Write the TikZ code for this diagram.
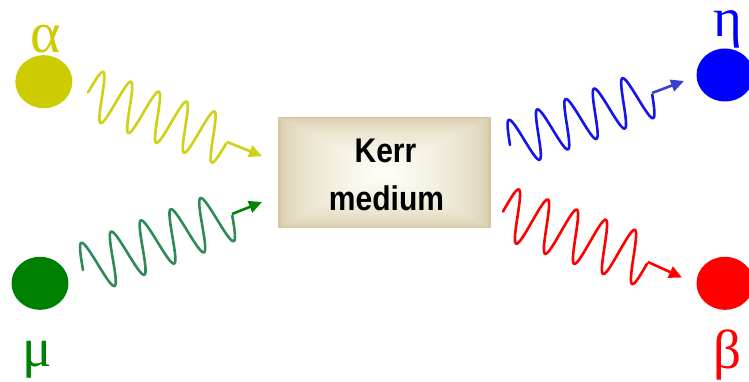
\documentclass[tikz,border=0pt]{standalone}
\usepackage{fontspec}
\setmainfont{Liberation Serif}
\newfontfamily\labelsans{Liberation Sans}
\usetikzlibrary{arrows.meta,shapes.geometric,calc}

\definecolor{qyellow}{RGB}{204,204,0}
\definecolor{qyellowwave}{RGB}{208,208,20}
\definecolor{qgreen}{RGB}{0,128,0}
\definecolor{qgreenwave}{RGB}{46,139,87}
\definecolor{qgreenhead}{RGB}{0,135,0}
\definecolor{qblue}{RGB}{0,0,255}
\definecolor{qbluewave}{RGB}{20,20,235}
\definecolor{qbluehead}{RGB}{60,60,215}
\definecolor{qred}{RGB}{255,0,0}
\definecolor{kerrout}{RGB}{212,200,164}
\definecolor{kerrin}{RGB}{255,254,248}

\tikzset{
  qmode/.style={ellipse, inner sep=0pt, minimum width=57pt, minimum height=53pt,
    fill=#1, draw=none},
  qlabel/.style={text=#1, anchor=base, inner sep=0pt,
    font=\fontsize{55}{60}\selectfont},
  photon/.style={line width=2.6pt, line join=round, line cap=round},
  photontail/.style={line width=2.6pt, -{Triangle[length=13pt,width=12pt]}},
  kerrtext/.style={anchor=base, inner sep=0pt,
    font=\labelsans\bfseries\fontsize{30}{34}\selectfont},
}

% sine wave of five periods from #1 to #2, amplitude #3 (pt), drawn with options #4
\newcommand\photonwave[4]{%
  \draw[photon,#4] let \p1=(#1), \p2=(#2), \n1={veclen(\x2-\x1,\y2-\y1)} in
    plot[domain=0:1, samples=301, variable=\t]
    ({\x1+\t*(\x2-\x1)-#3*sin(1800*\t)*(\y2-\y1)/\n1},
     {\y1+\t*(\y2-\y1)+#3*sin(1800*\t)*(\x2-\x1)/\n1});%
}

\begin{document}
\begin{tikzpicture}[x=1pt,y=-1pt]
\useasboundingbox (0,0) rectangle (749,382);
\clip (0,0) rectangle (749,382);

% Kerr medium: rectangular gradient built from nested rectangles
\foreach \k in {0,...,40}{
  \pgfmathsetmacro\f{1-\k/41}
  \pgfmathtruncatemacro\p{100*sqrt(\k/40)}
  \fill[kerrin!\p!kerrout] (384.5-106.5*\f,172.5-55.5*\f) rectangle (384.5+106.5*\f,172.5+55.5*\f);
}
\node[inner sep=0pt, minimum width=213pt, minimum height=111pt] (kerr) at (384.5,172.5) {};
\node[kerrtext] (kerrtop) at (385.5,162.5) {\scalebox{1}[1.14]{Kerr}};
\node[kerrtext] (kerrbot) at (386.5,210) {\scalebox{1}[1.14]{medium}};

% field modes
\node[qmode=qyellow] (alpha) at (43.8,81.7) {};
\node[qmode=qgreen] (mu) at (40,283.3) {};
\node[qmode=qblue] (eta) at (725,75) {};
\node[qmode=qred] (beta) at (725,283.3) {};

\node[qlabel=qyellow, font=\fontsize{58}{60}\selectfont] (alphalabel) at (45.5,53) {α};
\node[qlabel=qgreen] (mulabel) at (37,366) {μ};
\node[qlabel=qblue, text height=26pt, text depth=14pt] (etalabel) at (728,37) {η};
\node[qlabel=qred] (betalabel) at (727,368) {β};

% photon paths
\coordinate (yS) at (88,92.5);   \coordinate (yE) at (227,142);  \coordinate (yT) at (262,156);
\coordinate (gS) at (83,270);    \coordinate (gE) at (232,214);  \coordinate (gT) at (262,202);
\coordinate (bS) at (510,145);   \coordinate (bE) at (652,93);   \coordinate (bT) at (684,81);
\coordinate (rS) at (503,211.5); \coordinate (rE) at (648,262);  \coordinate (rT) at (682,277.5);

\photonwave{yS}{yE}{24.5}{qyellowwave}
\draw[photontail, qyellowwave] (yE) -- (yT);

\photonwave{gS}{gE}{26}{qgreenwave}
\draw[photontail, qgreenhead] (gE) -- (gT);

\photonwave{bS}{bE}{24}{qbluewave}
\draw[photontail, qbluehead] (bE) -- (bT);

\photonwave{rS}{rE}{26}{qred}
\draw[photontail, qred] (rE) -- (rT);
\end{tikzpicture}
\end{document}
